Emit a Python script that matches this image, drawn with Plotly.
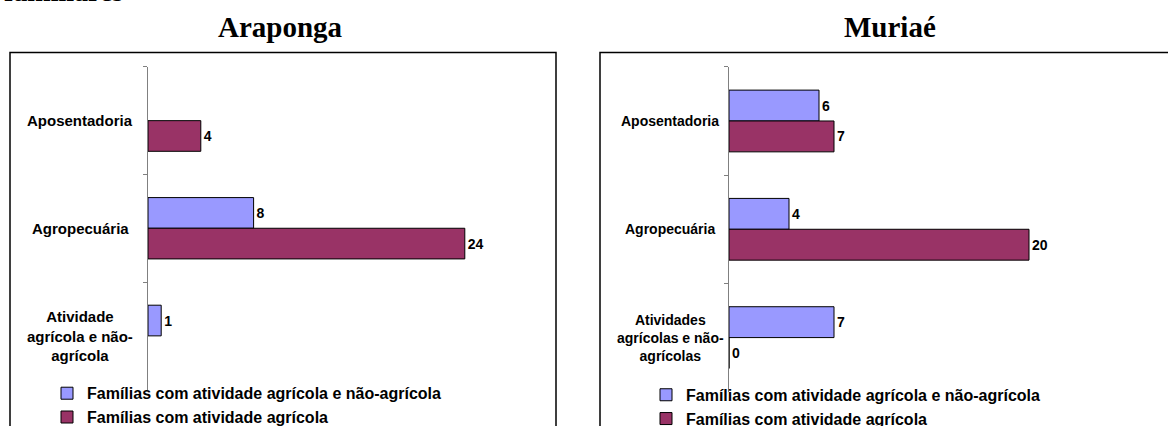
import plotly.graph_objects as go

W = 1168
REF_H = 426      # height of the reference picture; y targets below are in its pixels
H = 438          # figure height (slightly taller than the window; bottom rows are only frame lines)

# ---- data ----
categories_ara = ["Aposentadoria", "Agropecuária", "Atividade agrícola e não-agrícola"]
labels_ara = ["Aposentadoria", "Agropecuária", "Atividade<br>agrícola e não-<br>agrícola"]
ara_mista = [None, 8, 1]       # Famílias com atividade agrícola e não-agrícola
ara_agricola = [4, 24, None]   # Famílias com atividade agrícola

categories_mur = ["Aposentadoria", "Agropecuária", "Atividades agrícolas e não-agrícolas"]
labels_mur = ["Aposentadoria", "Agropecuária", "Atividades<br>agrícolas e não-<br>agrícolas"]
mur_mista = [6, 4, 7]
mur_agricola = [7, 20, 0]

series_names = ["Famílias com atividade agrícola e não-agrícola", "Famílias com atividade agrícola"]
titles = ["Araponga", "Muriaé"]
header_text = "familiares"

# ---- style ----
BLUE = "#9999FF"
MAROON = "#993366"
SANS = "Arial, Liberation Sans, sans-serif"
SERIF = "Times New Roman, Liberation Serif, serif"


def px(x):
    return x / W


def py(y):
    return 1 - y / REF_H


def txt(vals):
    return ["" if v is None else str(v) for v in vals]


fig = go.Figure()

panels = [
    (categories_ara, ara_mista, ara_agricola, "x", "y", "legend"),
    (categories_mur, mur_mista, mur_agricola, "x2", "y2", "legend2"),
]
for cats, mista, agric, xa, ya, lg in panels:
    for name, vals, col in [(series_names[0], mista, BLUE), (series_names[1], agric, MAROON)]:
        fig.add_trace(go.Bar(
            y=cats, x=vals, orientation="h", name=name,
            marker=dict(color=col, line=dict(color="black", width=1)),
            text=txt(vals), textposition="outside",
            textfont=dict(family=SANS, size=14, color="black", weight="bold"),
            cliponaxis=False, xaxis=xa, yaxis=ya, legend=lg,
        ))

yaxis_common = dict(
    type="category", autorange="reversed", showline=True, linecolor="#808080",
    linewidth=1, ticks="outside", ticklen=4, tickcolor="#808080",
    tickson="boundaries", showticklabels=False, showgrid=False, zeroline=False,
)
xaxis_common = dict(visible=False, showgrid=False, zeroline=False)

legend_common = dict(
    bgcolor="rgba(0,0,0,0)", borderwidth=0, xanchor="left", yanchor="top",
    font=dict(family=SANS, size=16, color="black", weight="bold"),
    orientation="v", traceorder="normal",
)

fig.update_layout(
    width=W, height=H, margin=dict(l=0, r=0, t=0, b=0),
    paper_bgcolor="white", plot_bgcolor="white",
    barmode="group", bargap=0.43, bargroupgap=0,
    showlegend=True,
    xaxis=dict(domain=[px(148), px(544)], range=[0, 30], anchor="y", **xaxis_common),
    yaxis=dict(domain=[py(379), py(65)], categoryarray=categories_ara, anchor="x", **yaxis_common),
    xaxis2=dict(domain=[px(729), px(1104)], range=[0, 25], anchor="y2", **xaxis_common),
    yaxis2=dict(domain=[py(381), py(65)], categoryarray=categories_mur, anchor="x2", **yaxis_common),
    legend=dict(x=px(47), y=py(366), **legend_common),
    legend2=dict(x=px(646), y=py(367.5), **legend_common),
)

# frames
fig.add_shape(type="rect", xref="paper", yref="paper", x0=px(10), x1=px(556), y0=-0.1, y1=py(51),
              line=dict(color="black", width=1.5), fillcolor="rgba(0,0,0,0)", layer="below")
fig.add_shape(type="rect", xref="paper", yref="paper", x0=px(600), x1=1.1, y0=-0.1, y1=py(51),
              line=dict(color="black", width=1.5), fillcolor="rgba(0,0,0,0)", layer="below")

# category labels (centered, multi-line)
for cats, labs, ya, cx, fs in [(categories_ara, labels_ara, "y", 80, 15),
                               (categories_mur, labels_mur, "y2", 670, 14)]:
    for c, l in zip(cats, labs):
        fig.add_annotation(xref="paper", yref=ya, x=px(cx), y=c, text=l, showarrow=False,
                           xanchor="center", yanchor="middle", align="center",
                           font=dict(family=SANS, size=fs, color="black", weight="bold"))

# titles
for t, cx in zip(titles, [280, 890]):
    fig.add_annotation(xref="paper", yref="paper", x=px(cx), y=py(44), text=t, showarrow=False,
                       xanchor="center", yanchor="bottom",
                       font=dict(family=SERIF, size=29, color="black", weight="bold"))

# cut-off header text at the very top
fig.add_annotation(xref="paper", yref="paper", x=px(2), y=py(9), text=header_text, showarrow=False,
                   xanchor="left", yanchor="bottom",
                   font=dict(family=SERIF, size=28, color="black", weight="bold"))

# remove the browser's default 8px page margin so figure pixels start at the page corner
fig.write_html("out.html", config={"displayModeBar": False},
               post_script="document.body.style.margin='0px';document.body.style.overflow='hidden';")
